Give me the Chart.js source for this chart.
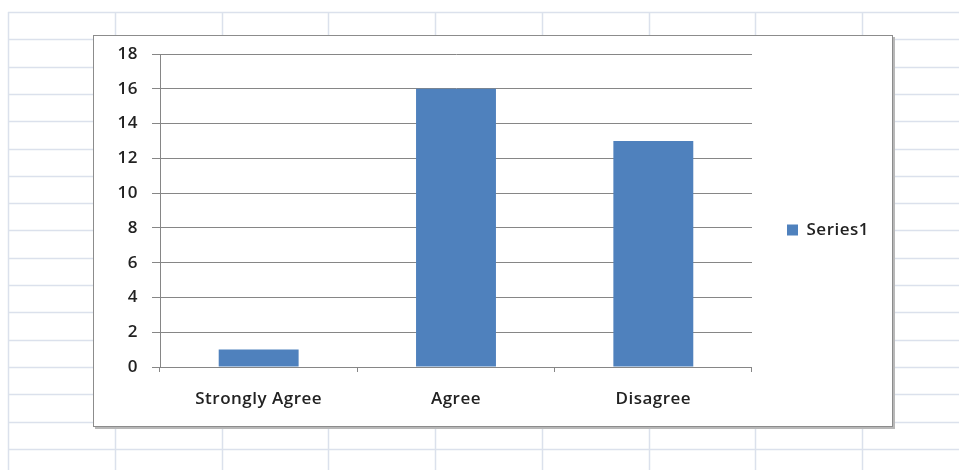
<!DOCTYPE html>
<html>
<head>
<meta charset="utf-8">
<script src="https://cdn.jsdelivr.net/npm/chart.js@4/dist/chart.umd.min.js"></script>
<style>
  html, body { margin: 0; padding: 0; background: #fff; }
  #wrap { width: 959px; height: 470px; }
</style>
</head>
<body>
<div id="wrap"><canvas id="surveyChart"></canvas></div>
<script>
// data
const categories = ['Strongly Agree', 'Agree', 'Disagree'];
const series1 = [1, 16, 13];
const seriesName = 'Series1';

const labelFont = { family: 'Open Sans', size: 17, weight: '600' };

// spreadsheet cells + chart frame behind the chart
const sheetBackground = {
    id: 'sheetBackground',
    beforeLayout(chart) {
        // a little tracking so the labels get the wide Excel look
        chart.ctx.letterSpacing = '0.5px';
    },
    beforeDraw(chart) {
        const ctx = chart.ctx;
        const w = chart.width, h = chart.height;
        ctx.letterSpacing = '0.5px';
        ctx.save();
        ctx.fillStyle = '#ffffff';
        ctx.fillRect(0, 0, w, h);

        // cell grid
        ctx.strokeStyle = '#dbe1ec';
        ctx.lineWidth = 1.5;
        for (let x = 8; x < w; x += 106.75) {
            ctx.beginPath();
            ctx.moveTo(Math.round(x) + 0.5, 12);
            ctx.lineTo(Math.round(x) + 0.5, h);
            ctx.stroke();
        }
        for (let y = 12; y < h; y += 27.3) {
            ctx.beginPath();
            ctx.moveTo(8, Math.round(y) + 0.5);
            ctx.lineTo(w, Math.round(y) + 0.5);
            ctx.stroke();
        }

        // chart frame with a small shadow
        ctx.fillStyle = '#b8b8b8';
        ctx.fillRect(95, 37, 800, 392);
        ctx.fillStyle = '#ffffff';
        ctx.fillRect(93, 35, 800, 392);
        ctx.strokeStyle = '#8c8c8c';
        ctx.lineWidth = 1;
        ctx.strokeRect(93.5, 35.5, 799, 391);
        ctx.restore();
    }
};

const ctx = document.getElementById('surveyChart').getContext('2d');

new Chart(ctx, {
    type: 'bar',
    data: {
        labels: categories,
        datasets: [{
            label: seriesName,
            data: series1,
            backgroundColor: '#4f81bd',
            borderWidth: 0,
            categoryPercentage: 1,
            barPercentage: 0.405
        }]
    },
    options: {
        responsive: true,
        maintainAspectRatio: false,
        animation: false,
        layout: {
            padding: { left: 93, top: 45, right: 80, bottom: 55 }
        },
        scales: {
            x: {
                afterFit: (scale) => { scale.height = 48; },
                grid: {
                    display: true,
                    offset: true,
                    drawOnChartArea: false,
                    drawTicks: true,
                    tickLength: 5,
                    color: '#868686'
                },
                border: { display: true, color: '#868686' },
                ticks: {
                    padding: 17,
                    color: '#222222',
                    font: labelFont
                }
            },
            y: {
                min: 0,
                max: 18,
                afterFit: (scale) => { scale.width = 67; },
                grid: {
                    color: '#868686',
                    tickLength: 8
                },
                border: { display: true, color: '#868686' },
                ticks: {
                    stepSize: 2,
                    padding: 14,
                    color: '#222222',
                    font: labelFont
                }
            }
        },
        plugins: {
            // empty, plot-wide title: only pushes the plot top down a little
            title: {
                display: true,
                text: '',
                fullSize: false,
                font: { size: 1, lineHeight: 1 },
                padding: { top: 8, bottom: 0 }
            },
            legend: {
                position: 'right',
                labels: {
                    boxWidth: 11,
                    boxHeight: 11,
                    padding: 35,
                    color: '#222222',
                    font: labelFont
                }
            },
            tooltip: { enabled: false }
        }
    },
    plugins: [sheetBackground]
});
</script>
</body>
</html>
